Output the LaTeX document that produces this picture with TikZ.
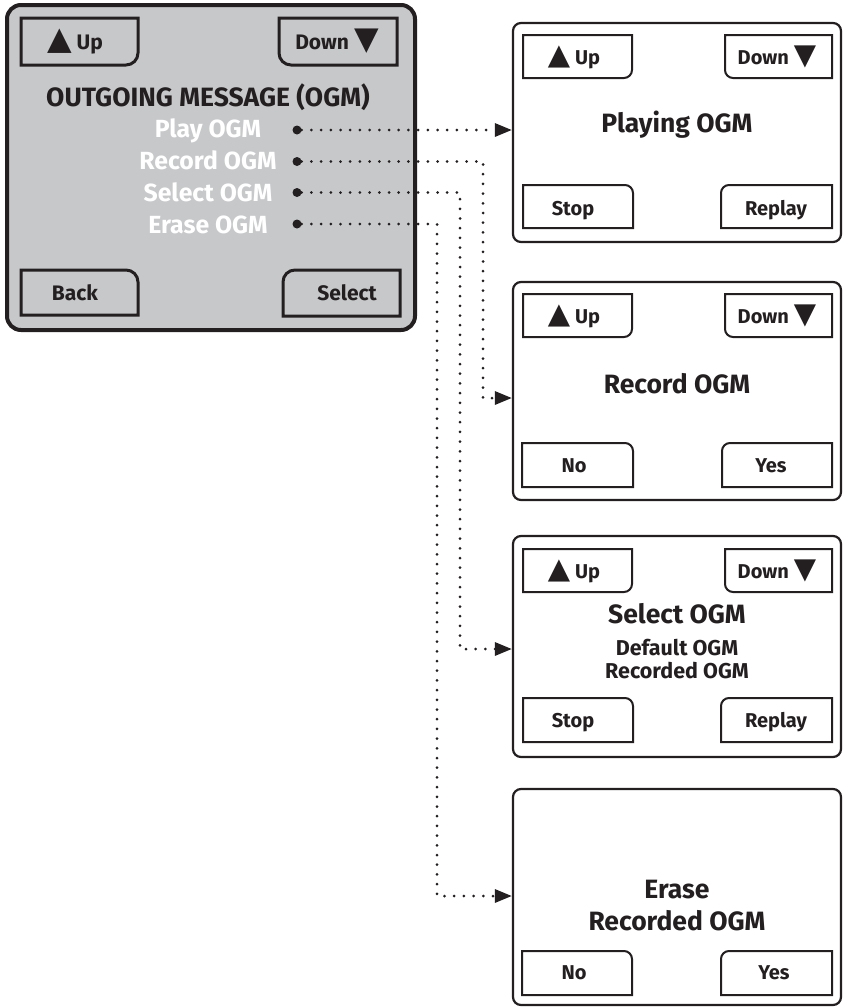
\documentclass[tikz,border=0pt]{standalone}
\usepackage{fontspec}
\setmainfont{Fira Sans}
\newfontfamily\symfont{DejaVu Sans}
\usetikzlibrary{arrows.meta}
\definecolor{ink}{HTML}{231F20}
\definecolor{lcdgray}{HTML}{C7C8CA}

% corner radius of the keys
\def\kr{8}
% key frames, one rounded corner each: {x1}{y1}{x2}{y2}
\newcommand{\keyBR}[4]{\draw[key] (#1,#2) -- (#3,#2) -- (#3,#4-\kr) arc (0:90:\kr) -- (#1,#4) -- cycle;}
\newcommand{\keyBL}[4]{\draw[key] (#3,#2) -- (#1,#2) -- (#1,#4-\kr) arc (180:90:\kr) -- (#3,#4) -- cycle;}
\newcommand{\keyTR}[4]{\draw[key] (#1,#4) -- (#3,#4) -- (#3,#2+\kr) arc (0:-90:\kr) -- (#1,#2) -- cycle;}
\newcommand{\keyTL}[4]{\draw[key] (#3,#4) -- (#1,#4) -- (#1,#2+\kr) arc (180:270:\kr) -- (#3,#2) -- cycle;}
\newcommand{\uptri}[1]{{\symfont\fontsize{#1}{#1}\selectfont ▲}\hspace{5pt}}
\newcommand{\dntri}[1]{\hspace{5pt}{\symfont\fontsize{#1}{#1}\selectfont ▼}}

\tikzset{
	lcd/.style = {draw = ink, line width = 2.2pt, rounded corners = 8pt,
		inner sep = 0pt},
	key/.style = {draw = ink, line width = 2pt},
	dot/.style = {circle, fill = ink, inner sep = 0pt, minimum size = 9pt},
	link/.style = {draw = ink, line width = 3pt, line cap = round,
		dash pattern = on 0pt off 9.7pt, -{Triangle[length=17pt,width=13pt]}},
	bigkey/.style = {text = ink, anchor = base,
		font = \fontsize{21}{21}\selectfont\bfseries},
	smallkey/.style = {text = ink, anchor = base,
		font = \fontsize{20}{20}\selectfont\bfseries},
	head/.style = {text = ink, anchor = base,
		font = \fontsize{26.5}{26.5}\selectfont\bfseries},
	sub/.style = {text = ink, anchor = base,
		font = \fontsize{21.5}{21.5}\selectfont\bfseries},
	item/.style = {text = white, anchor = base,
		font = \fontsize{24.8}{24.8}\selectfont\bfseries}
}

\begin{document}
\begin{tikzpicture} [x = 1pt, y = -1pt]
\useasboundingbox (0,0) rectangle (843,1007);

% main screen:
\node [lcd, fill = lcdgray, line width = 4pt, rounded corners = 14pt,
	minimum width = 408pt, minimum height = 325pt] (main) at (211,167.5) {};

\begin{scope} [key/.append style = {line width = 3pt}]
\def\kr{12}
\keyBR{21}{18}{138}{65}
\keyBL{279}{18}{397}{65}
\keyTR{21}{270}{138}{315}
\keyTL{283}{270}{400}{316}
\end{scope}
\node [bigkey] (mup) at (75,49) {\uptri{32}Up};
\node [bigkey] (mdown) at (337,49) {Down\dntri{32}};
\node [bigkey] (mback) at (75,300) {Back};
\node [bigkey] (mselect) at (347,300) {Select};

\node [head] (mtitle) at (208,106) {OUTGOING MESSAGE (OGM)};
\node [item] (iplay) at (208,137) {Play OGM};
\node [item] (irecord) at (208,169) {Record OGM};
\node [item] (iselect) at (208,201.5) {Select OGM};
\node [item] (ierase) at (208,233) {Erase OGM};

\node [dot] (p1) at (297,130) {};
\node [dot] (p2) at (297,161.5) {};
\node [dot] (p3) at (297,192.5) {};
\node [dot] (p4) at (297,224) {};

% right screens:
\node [lcd, minimum width = 328pt, minimum height = 219pt] (s1) at (677,132.5) {};
\node [lcd, minimum width = 328pt, minimum height = 218pt] (s2) at (677,391) {};
\node [lcd, minimum width = 328pt, minimum height = 221pt] (s3) at (677,646.5) {};
\node [lcd, minimum width = 328pt, minimum height = 216pt] (s4) at (677,897) {};

% Playing OGM
\keyBR{523}{35}{632}{78}
\keyBL{725}{35}{832}{78}
\keyTR{523}{185}{633}{228}
\keyTL{721}{185}{832}{228}
\node [smallkey] (s1up) at (574,64) {\uptri{29}Up};
\node [smallkey] (s1down) at (777,64) {Down\dntri{29}};
\node [smallkey] (s1stop) at (573,215) {Stop};
\node [smallkey] (s1replay) at (776,215) {Replay};
\node [head] (s1title) at (677,132) {Playing OGM};

% Record OGM
\keyBR{523}{294}{632}{337}
\keyBL{725}{294}{832}{337}
\keyTR{522}{443}{633}{487}
\keyTL{722}{443}{832}{487}
\node [smallkey] (s2up) at (574,323) {\uptri{29}Up};
\node [smallkey] (s2down) at (777,323) {Down\dntri{29}};
\node [smallkey] (s2no) at (574,472) {No};
\node [smallkey] (s2yes) at (771,472) {Yes};
\node [head] (s2title) at (677,393) {Record OGM};

% Select OGM
\keyBR{523}{549}{632}{592}
\keyBL{725}{549}{832}{592}
\keyTR{523}{698}{633}{742}
\keyTL{721}{698}{832}{742}
\node [smallkey] (s3up) at (574,578) {\uptri{29}Up};
\node [smallkey] (s3down) at (777,578) {Down\dntri{29}};
\node [smallkey] (s3stop) at (573,727) {Stop};
\node [smallkey] (s3replay) at (776,727) {Replay};
\node [head] (s3title) at (677,623) {Select OGM};
\node [sub] (s3default) at (677,655) {Default OGM};
\node [sub] (s3recorded) at (677,678) {Recorded OGM};

% Erase OGM
\keyTR{522}{951}{632}{995}
\keyTL{721}{951}{832}{995}
\node [smallkey] (s4no) at (574,979) {No};
\node [smallkey] (s4yes) at (774,979) {Yes};
\node [head] (s4erase) at (677,898) {Erase};
\node [head] (s4recorded) at (677,930) {Recorded OGM};

% links:
\coordinate (in2) at (s2.west |- 0,398);
\coordinate (in3) at (s3.west |- 0,649);
\coordinate (in4) at (s4.west |- 0,896);
\draw [link] (p1) -- (p1 -| s1.west);
\draw [link] (p2) -- (p2 -| 483,0) |- (in2);
\draw [link] (p3) -- (p3 -| 460,0) |- (in3);
\draw [link] (p4) -- (p4 -| 437,0) |- (in4);
\end{tikzpicture}
\end{document}
